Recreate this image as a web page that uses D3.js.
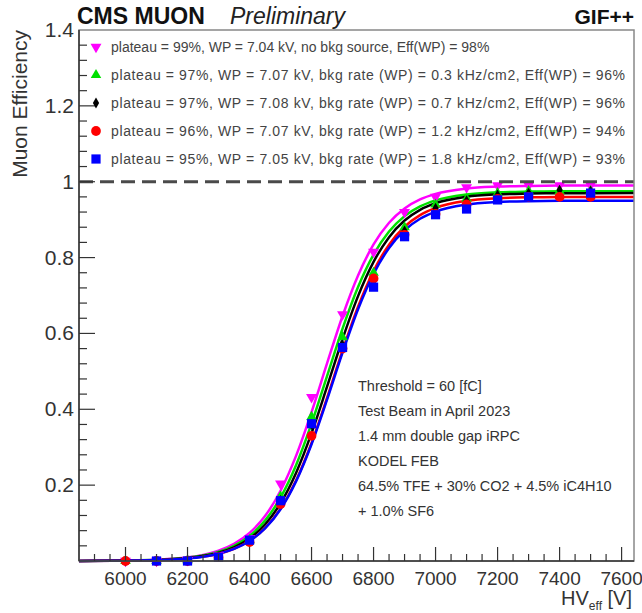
<!DOCTYPE html>
<html>
<head>
<meta charset="utf-8">
<script src="https://cdn.jsdelivr.net/npm/d3@7"></script>
<style>
  html, body { margin: 0; padding: 0; background: #fff; }
  svg { display: block; font-family: "Liberation Sans", Arial, sans-serif; }
</style>
</head>
<body>
<div id="plot"></div>
<script>
/* Measured points (HV_eff in V, efficiency) */
const HV = [6000, 6100, 6200, 6300, 6400, 6500, 6600, 6700, 6800, 6900, 7000, 7100, 7200, 7300, 7400, 7500];
const effNoBkg  = [0, 0, 0.002, 0.015, 0.06, 0.204, 0.432, 0.65, 0.815, 0.92, 0.96, 0.985, 0.99, 0.99, 0.99, 0.99];
const effBkg03  = [0, 0, 0.002, 0.012, 0.055, 0.17, 0.38, 0.59, 0.76, 0.88, 0.94, 0.955, 0.97, 0.975, 0.975, 0.975];
const effBkg07  = [0, 0, 0.002, 0.012, 0.05, 0.16, 0.36, 0.57, 0.73, 0.87, 0.93, 0.95, 0.965, 0.97, 0.978, 0.975];
const effBkg12  = [0, 0, 0, 0.01, 0.05, 0.15, 0.33, 0.56, 0.745, 0.86, 0.915, 0.94, 0.955, 0.96, 0.96, 0.96];
const effBkg18  = [null, 0, 0, 0.01, 0.055, 0.159, 0.362, 0.563, 0.722, 0.855, 0.913, 0.928, 0.952, 0.96, null, 0.97];

/* Fit curves */
const FIT_HV = [5850, 6000, 6100, 6200, 6250, 6300, 6350, 6400, 6450, 6500, 6550, 6600, 6650, 6700, 6750, 6800, 6850, 6900, 6950, 7000, 7100, 7200, 7300, 7400, 7640];
const fitNoBkg = [0.0002, 0.0012, 0.0034, 0.0097, 0.0162, 0.0271, 0.045, 0.0738, 0.1185, 0.1851, 0.2772, 0.3926, 0.5209, 0.646, 0.7529, 0.8346, 0.8917, 0.9294, 0.9532, 0.9679, 0.9822, 0.9872, 0.989, 0.9897, 0.99];
const fitBkg03 = [0.0002, 0.0011, 0.003, 0.0086, 0.0144, 0.0241, 0.0401, 0.0658, 0.1064, 0.1672, 0.2527, 0.3624, 0.4875, 0.6126, 0.7223, 0.8078, 0.8686, 0.9092, 0.9349, 0.9509, 0.9664, 0.972, 0.9739, 0.9746, 0.975];
const fitBkg07 = [0.0002, 0.001, 0.0027, 0.0077, 0.0129, 0.0216, 0.0361, 0.0594, 0.0963, 0.1523, 0.2323, 0.3371, 0.4596, 0.5853, 0.6984, 0.7886, 0.8539, 0.8977, 0.9259, 0.9434, 0.9605, 0.9667, 0.9688, 0.9696, 0.97];
const fitBkg12 = [0.0002, 0.0009, 0.0024, 0.0068, 0.0115, 0.0193, 0.0323, 0.0532, 0.0867, 0.138, 0.2122, 0.3111, 0.4298, 0.555, 0.6706, 0.7647, 0.834, 0.8812, 0.9118, 0.9309, 0.9496, 0.9564, 0.9588, 0.9595, 0.96];
const fitBkg18 = [0.0002, 0.0009, 0.0024, 0.0067, 0.0114, 0.0191, 0.0319, 0.0526, 0.0858, 0.1365, 0.21, 0.3079, 0.4253, 0.5492, 0.6636, 0.7568, 0.8253, 0.872, 0.9023, 0.9212, 0.9397, 0.9464, 0.9488, 0.9495, 0.95];

const LEGEND = [
  'plateau = 99%, WP = 7.04 kV, no bkg source, Eff(WP) = 98%',
  'plateau = 97%, WP = 7.07 kV, bkg rate (WP) = 0.3 kHz/cm2, Eff(WP) = 96%',
  'plateau = 97%, WP = 7.08 kV, bkg rate (WP) = 0.7 kHz/cm2, Eff(WP) = 96%',
  'plateau = 96%, WP = 7.07 kV, bkg rate (WP) = 1.2 kHz/cm2, Eff(WP) = 94%',
  'plateau = 95%, WP = 7.05 kV, bkg rate (WP) = 1.8 kHz/cm2, Eff(WP) = 93%'
];
const INFO = [
  'Threshold = 60 [fC]',
  'Test Beam in April 2023',
  '1.4 mm double gap iRPC',
  'KODEL FEB',
  '64.5% TFE + 30% CO2 + 4.5% iC4H10',
  '+ 1.0% SF6'
];
const X_TICKS = [6000, 6200, 6400, 6600, 6800, 7000, 7200, 7400, 7600];
const Y_TICKS = [0.2, 0.4, 0.6, 0.8, 1, 1.2, 1.4];

var series = [
  { eff: effNoBkg, fit: fitNoBkg, color: '#ff00ff', shape: 'tridown', label: LEGEND[0] },
  { eff: effBkg03, fit: fitBkg03, color: '#00e000', shape: 'triup',   label: LEGEND[1] },
  { eff: effBkg07, fit: fitBkg07, color: '#000000', shape: 'diamond', label: LEGEND[2] },
  { eff: effBkg12, fit: fitBkg12, color: '#ff0000', shape: 'circle',  label: LEGEND[3] },
  { eff: effBkg18, fit: fitBkg18, color: '#0000ff', shape: 'square',  label: LEGEND[4] }
];

var W = 642, H = 613;
var frame = { left: 79, right: 634, top: 30, bottom: 561 };

var svg = d3.select('#plot').append('svg')
  .attr('width', W).attr('height', H);

var x = d3.scaleLinear().domain([5850, 7640]).range([frame.left, frame.right]);
var y = d3.scaleLinear().domain([0, 1.4]).range([frame.bottom, frame.top]);

var marker = function(shape) {
  switch (shape) {
    case 'tridown': return { path: d3.symbol(d3.symbolTriangle, 52)(), rot: 180 };
    case 'triup':   return { path: d3.symbol(d3.symbolTriangle, 48)(), rot: 0 };
    case 'diamond': return { path: d3.symbol(d3.symbolDiamond, 34)(), rot: 0 };
    case 'circle':  return { path: d3.symbol(d3.symbolCircle, 75)(), rot: 0 };
    default:        return { path: d3.symbol(d3.symbolSquare, 85)(), rot: 0 };
  }
};

/* Fit curves */
var line = d3.line()
  .x(function(d) { return x(d[0]); })
  .y(function(d) { return y(d[1]); })
  .curve(d3.curveMonotoneX);

var plotArea = svg.append('g');
series.forEach(function(s) {
  plotArea.append('path')
    .datum(FIT_HV.map(function(v, i) { return [v, s.fit[i]]; }))
    .attr('d', line)
    .attr('fill', 'none')
    .attr('stroke', s.color)
    .attr('stroke-width', 2.5);
});

/* y = 1 reference */
svg.append('line')
  .attr('x1', x(5850)).attr('x2', x(7640))
  .attr('y1', y(1)).attr('y2', y(1))
  .attr('stroke', '#4a4a4a').attr('stroke-width', 3)
  .attr('stroke-dasharray', '14,7');

/* Points */
series.forEach(function(s) {
  var m = marker(s.shape);
  var pts = HV.map(function(v, i) { return [v, s.eff[i]]; })
    .filter(function(d) { return d[1] !== null; });
  plotArea.selectAll(null)
    .data(pts)
    .enter()
    .append('path')
    .attr('d', m.path)
    .attr('transform', function(d) {
      return 'translate(' + x(d[0]) + ',' + y(d[1]) + ') rotate(' + m.rot + ')';
    })
    .attr('fill', s.color);
});

/* Frame and ticks (ROOT style, inward) */
var axisColor = '#333';
svg.append('rect')
  .attr('x', frame.left).attr('y', frame.top)
  .attr('width', frame.right - frame.left)
  .attr('height', frame.bottom - frame.top)
  .attr('fill', 'none').attr('stroke', '#888').attr('stroke-width', 1.5);
svg.append('line')
  .attr('x1', frame.left).attr('x2', frame.left)
  .attr('y1', frame.top).attr('y2', frame.bottom)
  .attr('stroke', axisColor).attr('stroke-width', 1.5);
svg.append('line')
  .attr('x1', frame.left).attr('x2', frame.right)
  .attr('y1', frame.bottom).attr('y2', frame.bottom)
  .attr('stroke', axisColor).attr('stroke-width', 1.5);

var xMinor = d3.range(5900, 7640, 50);
svg.append('g').selectAll('line')
  .data(xMinor)
  .enter()
  .append('line')
  .attr('x1', function(d) { return x(d); })
  .attr('x2', function(d) { return x(d); })
  .attr('y1', frame.bottom)
  .attr('y2', function(d) { return frame.bottom - (d % 200 === 0 ? 14 : 7); })
  .attr('stroke', axisColor).attr('stroke-width', 1.2);

svg.append('g').selectAll('text')
  .data(X_TICKS)
  .enter()
  .append('text')
  .attr('x', function(d) { return x(d); })
  .attr('y', frame.bottom + 24)
  .attr('text-anchor', 'middle')
  .attr('font-size', 19)
  .attr('fill', '#333')
  .text(function(d) { return d; });

var yMinor = d3.range(1, 35).map(function(i) { return i * 0.04; });
svg.append('g').selectAll('line')
  .data(yMinor)
  .enter()
  .append('line')
  .attr('x1', frame.left)
  .attr('x2', function(d, i) { return frame.left + ((i + 1) % 5 === 0 ? 16 : 8); })
  .attr('y1', function(d) { return y(d); })
  .attr('y2', function(d) { return y(d); })
  .attr('stroke', axisColor).attr('stroke-width', 1.2);

svg.append('g').selectAll('text')
  .data(Y_TICKS)
  .enter()
  .append('text')
  .attr('x', frame.left - 5)
  .attr('y', function(d) { return y(d) + 7; })
  .attr('text-anchor', 'end')
  .attr('font-size', 21)
  .attr('fill', '#333')
  .text(function(d) { return d; });

/* Axis titles */
svg.append('text')
  .attr('transform', 'translate(27,' + frame.top + ') rotate(-90)')
  .attr('text-anchor', 'end')
  .attr('font-size', 21)
  .attr('fill', '#333')
  .text('Muon Efficiency');

var xt = svg.append('text')
  .attr('x', frame.right - 2)
  .attr('y', 605)
  .attr('text-anchor', 'end')
  .attr('font-size', 20)
  .attr('fill', '#333');
xt.append('tspan').text('HV');
xt.append('tspan').attr('font-size', 12).attr('dy', 5).text('eff');
xt.append('tspan').attr('dy', -5).text(' [V]');

/* Header */
svg.append('text')
  .attr('x', 77).attr('y', 24)
  .attr('font-size', 23).attr('font-weight', 'bold')
  .attr('fill', '#111')
  .text('CMS MUON');
svg.append('text')
  .attr('x', 230).attr('y', 24)
  .attr('font-size', 23).attr('font-style', 'italic')
  .attr('fill', '#222')
  .text('Preliminary');
svg.append('text')
  .attr('x', frame.right).attr('y', 24)
  .attr('text-anchor', 'end')
  .attr('font-size', 21).attr('font-weight', 'bold')
  .attr('fill', '#111')
  .text('GIF++');

/* Legend */
var legend = svg.append('g');
series.forEach(function(s, i) {
  var ly = 47 + i * 28;
  var m = marker(s.shape);
  legend.append('path')
    .attr('d', m.path)
    .attr('transform', 'translate(96,' + ly + ') rotate(' + m.rot + ')')
    .attr('fill', s.color);
  var t = legend.append('text')
    .attr('x', 111).attr('y', ly + 5)
    .attr('font-size', 14)
    .attr('fill', '#444')
    .text(s.label);
  if (i > 0) {
    t.attr('textLength', 514).attr('lengthAdjust', 'spacing');
  }
});

/* Info block */
svg.append('g').selectAll('text')
  .data(INFO)
  .enter()
  .append('text')
  .attr('x', 358)
  .attr('y', function(d, i) { return 391 + i * 25; })
  .attr('font-size', 14.5)
  .attr('fill', '#333')
  .text(function(d) { return d; });
</script>
</body>
</html>
